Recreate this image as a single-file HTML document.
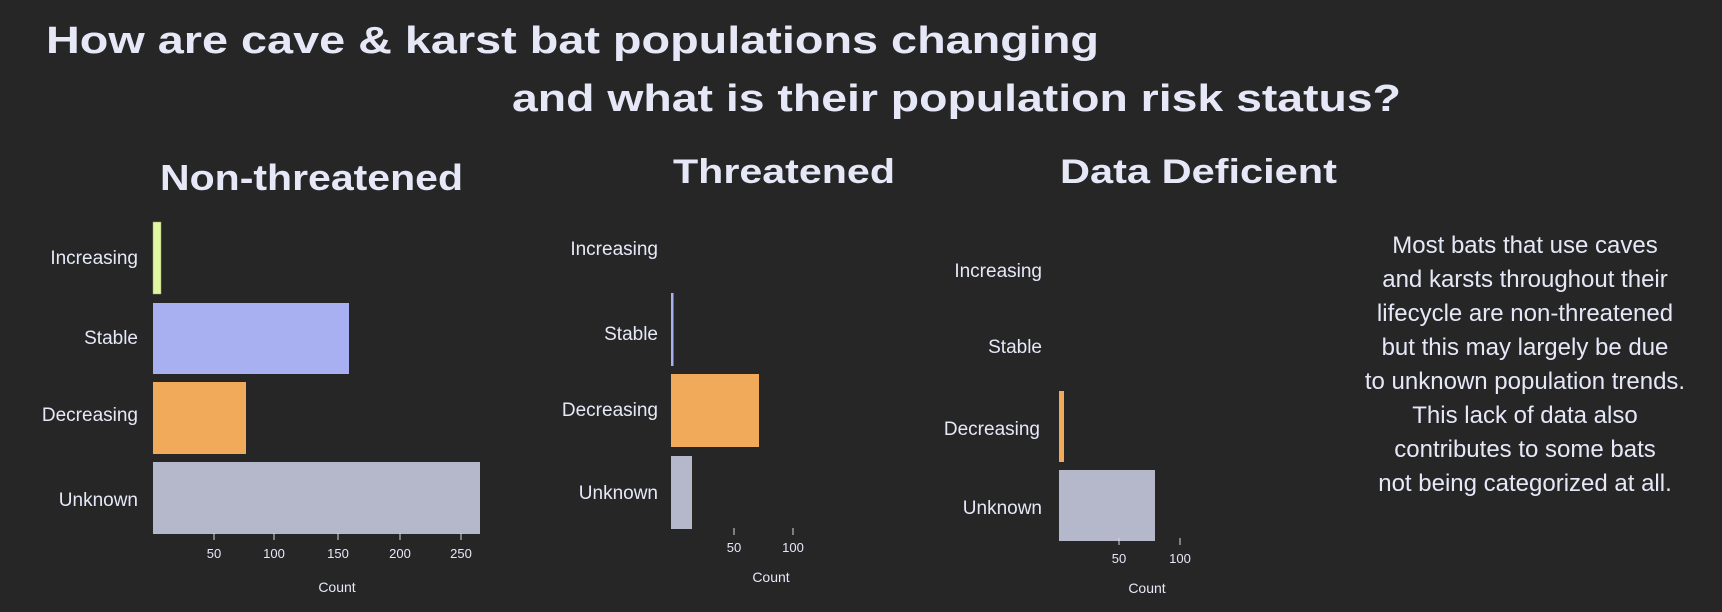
<!DOCTYPE html>
<html><head><meta charset="utf-8"><style>
html,body{margin:0;padding:0;background:#262626;}
svg{display:block;}
</style></head><body>
<svg width="1722" height="612" xmlns="http://www.w3.org/2000/svg" font-family="Liberation Sans, sans-serif">
<rect width="1722" height="612" fill="#262626"/>
<g fill="#e6e8f8" font-weight="bold" font-size="38">
<text x="46" y="53" textLength="1053" lengthAdjust="spacingAndGlyphs">How are cave &amp;  karst bat populations changing</text>
<text x="512" y="111" textLength="889" lengthAdjust="spacingAndGlyphs">and what is their population risk status?</text>
<text x="160" y="190" font-size="36" textLength="303" lengthAdjust="spacingAndGlyphs">Non-threatened</text>
<text x="673" y="183" font-size="34" textLength="222" lengthAdjust="spacingAndGlyphs">Threatened</text>
<text x="1060" y="183" font-size="34" textLength="277" lengthAdjust="spacingAndGlyphs">Data Deficient</text>
</g>
<g fill="#e6e8f8" font-size="19" text-anchor="end">
<text x="138" y="264">Increasing</text>
<text x="138" y="344">Stable</text>
<text x="138" y="421">Decreasing</text>
<text x="138" y="506">Unknown</text>
<text x="658" y="255">Increasing</text>
<text x="658" y="340">Stable</text>
<text x="658" y="416">Decreasing</text>
<text x="658" y="499">Unknown</text>
<text x="1042" y="277">Increasing</text>
<text x="1042" y="353">Stable</text>
<text x="1040" y="435">Decreasing</text>
<text x="1042" y="514">Unknown</text>
</g>
<!-- bars -->
<rect x="153" y="222" width="8" height="72" fill="#e2f7a2" stroke="#9aa070" stroke-width="0.5"/>
<rect x="153" y="303" width="196" height="71" fill="#a8b0f2"/>
<rect x="153" y="382" width="93" height="72" fill="#f0aa5a"/>
<rect x="153" y="462" width="327" height="72" fill="#b4b8ca"/>
<rect x="671" y="293" width="2.5" height="73" fill="#a8b0f2"/>
<rect x="671" y="374" width="88" height="73" fill="#f0aa5a"/>
<rect x="671" y="456" width="21" height="73" fill="#b4b8ca"/>
<rect x="1059" y="391" width="5" height="71" fill="#f0aa5a"/>
<rect x="1059" y="470" width="96" height="71" fill="#b4b8ca"/>
<!-- ticks -->
<g stroke="#d8d8e0" stroke-width="1">
<line x1="214" y1="533" x2="214" y2="540"/><line x1="274" y1="533" x2="274" y2="540"/><line x1="338" y1="533" x2="338" y2="540"/><line x1="400" y1="533" x2="400" y2="540"/><line x1="461" y1="533" x2="461" y2="540"/>
<line x1="734" y1="528" x2="734" y2="535"/><line x1="793" y1="528" x2="793" y2="535"/>
<line x1="1119" y1="538" x2="1119" y2="545"/><line x1="1180" y1="538" x2="1180" y2="545"/>
</g>
<g fill="#e6e8f8" font-size="13" text-anchor="middle">
<text x="214" y="558">50</text><text x="274" y="558">100</text><text x="338" y="558">150</text><text x="400" y="558">200</text><text x="461" y="558">250</text>
<text x="734" y="552">50</text><text x="793" y="552">100</text>
<text x="1119" y="563">50</text><text x="1180" y="563">100</text>
<text x="337" y="592" font-size="14">Count</text>
<text x="771" y="582" font-size="14">Count</text>
<text x="1147" y="593" font-size="14">Count</text>
</g>
<g fill="#e6e8f8" font-size="24" text-anchor="middle">
<text x="1525" y="253">Most bats that use caves</text>
<text x="1525" y="287">and karsts throughout their</text>
<text x="1525" y="321">lifecycle are non-threatened</text>
<text x="1525" y="355">but this may largely be due</text>
<text x="1525" y="389">to unknown population trends.</text>
<text x="1525" y="423">This lack of data also</text>
<text x="1525" y="457">contributes to some bats</text>
<text x="1525" y="491">not being categorized at all.</text>
</g>
</svg>
</body></html>
